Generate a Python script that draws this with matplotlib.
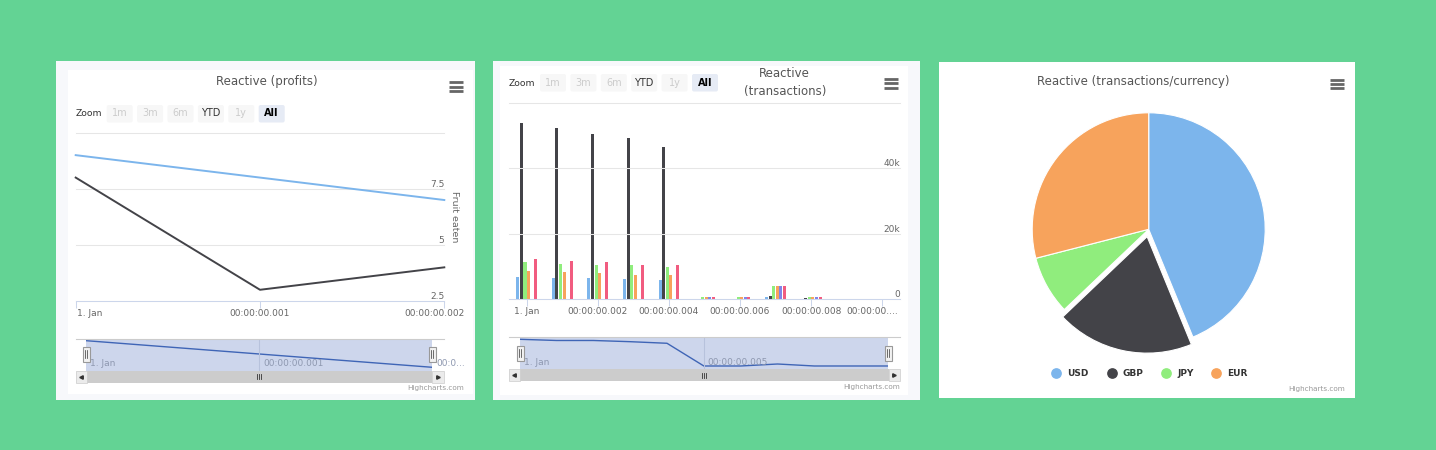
import numpy as np
import matplotlib
matplotlib.use('Agg')
import matplotlib.pyplot as plt
import matplotlib.transforms as mtransforms
from matplotlib.patches import Rectangle, FancyBboxPatch
from matplotlib.lines import Line2D

# profits (line chart), x in milliseconds after 1. Jan
profit_ms = [0, 1, 2]
profit_blue = [9, 8, 7]
profit_black = [8, 3, 4]
profit_yticks = [2.5, 5, 7.5, 10]
profit_ylabels = ['2.5', '5', '7.5', '']
profit_xlabels = ['1. Jan', '00:00:00.001', '00:00:00.002']
profit_nav_ticks = [0, 1, 2]
profit_nav_labels = ['1. Jan', '00:00:00.001', '00:0...']

# transactions (column chart)
tx_ms = [0, 1, 2, 3, 4, 5, 6, 7, 8, 9, 10]
tx_usd = [6700, 6400, 6400, 6100, 5700, 0, 0, 500, 0, 0, 0]
tx_gbp = [53800, 52400, 50400, 49300, 46500, 0, 0, 800, 300, 0, 0]
tx_jpy = [11200, 10700, 10400, 10400, 9900, 600, 600, 3900, 500, 0, 0]
tx_eur = [8500, 8300, 8000, 7400, 7200, 600, 600, 3900, 500, 0, 0]
tx_s5 = [0, 0, 0, 0, 0, 600, 600, 3900, 500, 0, 0]
tx_s6 = [12200, 11700, 11200, 10400, 10300, 600, 600, 3900, 500, 0, 0]
tx_yticks = [0, 20000, 40000, 60000]
tx_ylabels = ['0', '20k', '40k', '']
tx_xticks = [0, 2, 4, 6, 8, 10]
tx_xlabels = ['1. Jan', '00:00:00.002', '00:00:00.004', '00:00:00.006',
              '00:00:00.008', '00:00:00....']
tx_nav_ticks = [0, 5]
tx_nav_labels = ['1. Jan', '00:00:00.005']

# transactions per currency (pie)
currencies = ['USD', 'GBP', 'JPY', 'EUR']
currency_share = [43.8, 19.1, 8.1, 29.0]

range_buttons = ['1m', '3m', '6m', 'YTD', '1y', 'All']

HC = ['#7cb5ec', '#434348', '#90ed7d', '#f7a35c', '#8085e9', '#f15c80']
W, H = 1436, 450

fig = plt.figure(figsize=(W / 100, H / 100), dpi=100)
fig.patch.set_facecolor('#63d394')


def px_axes(x0, y0, x1, y1):
    ax = fig.add_axes([x0 / W, 1 - y1 / H, (x1 - x0) / W, (y1 - y0) / H])
    ax.patch.set_alpha(0)
    return ax


def overlay():
    ax = px_axes(0, 0, W, H)
    ax.set_xlim(0, W)
    ax.set_ylim(H, 0)
    ax.axis('off')
    return ax


bg = overlay()

# panel cards
bg.add_patch(Rectangle((56, 61), 419, 339, fc='#f7f8fb', ec='none'))
bg.add_patch(Rectangle((68, 70), 405, 324, fc='white', ec='none'))
bg.add_patch(Rectangle((493, 61), 427, 339, fc='#f7f8fb', ec='none'))
bg.add_patch(Rectangle((500, 66), 408, 329, fc='white', ec='none'))
bg.add_patch(Rectangle((939, 62), 416, 336, fc='white', ec='none'))

# titles
bg.text(266.7, 82, 'Reactive (profits)', ha='center', va='center',
        fontsize=8.5, color='#555555')
bg.text(784.7, 82.5, 'Reactive\n(transactions)', ha='center', va='center',
        fontsize=8.5, color='#555555', linespacing=1.45)
bg.text(1133, 81.7, 'Reactive (transactions/currency)', ha='center',
        va='center', fontsize=8.5, color='#555555')


def menu_icon(x0, x1, ys):
    for y in ys:
        bg.plot([x0, x1], [y, y], color='#666666', lw=2, solid_capstyle='butt')


menu_icon(449.3, 462.7, [82.3, 86.7, 91])
menu_icon(884, 898, [79.3, 83.3, 87.7])
menu_icon(1329.7, 1343.7, [80, 84, 88.3])

for xr, yr in [(464.3, 387.7), (899.7, 386.7), (1345.3, 389.3)]:
    bg.text(xr, yr, 'Highcharts.com', ha='right', va='center',
            fontsize=5.2, color='#999999')


def zoom_row(x_label, x_first, y_top):
    bg.text(x_label, y_top + 9, 'Zoom', ha='left', va='center',
            fontsize=6.7, color='#333333')
    for i, lab in enumerate(range_buttons):
        x = x_first + i * 30.4
        if lab == 'All':
            fc, tc, fw = '#e6ebf5', '#000000', 'bold'
        elif lab == 'YTD':
            fc, tc, fw = '#f7f7f7', '#333333', 'normal'
        else:
            fc, tc, fw = '#f7f7f7', '#cccccc', 'normal'
        bg.add_patch(FancyBboxPatch((x + 2, y_top + 2), 22, 13.5,
                                    boxstyle='round,pad=2', fc=fc, ec='none'))
        bg.text(x + 13, y_top + 8.5, lab, ha='center', va='center',
                fontsize=7, color=tc, weight=fw)


zoom_row(76, 106.7, 105)
zoom_row(508.7, 540, 74)


def style_axes(ax, yticks, xticks):
    ax.set_yticks(yticks)
    ax.set_xticks(xticks)
    ax.grid(axis='y', color='#e6e6e6', lw=0.75)
    ax.tick_params(axis='y', left=False, labelleft=False)
    ax.tick_params(axis='x', length=5, width=0.75, color='#ccd6eb',
                   labelbottom=False)
    for s in ('top', 'left', 'right'):
        ax.spines[s].set_visible(False)
    ax.spines['bottom'].set_color('#ccd6eb')
    ax.spines['bottom'].set_linewidth(0.75)
    for gl in ax.get_ygridlines():
        gl.set_clip_on(False)


def right_ylabels(ax, ticks, labels):
    tr = mtransforms.offset_copy(ax.get_yaxis_transform(), fig=fig,
                                 x=0, y=2, units='dots')
    for t, lab in zip(ticks, labels):
        ax.text(1, t, lab, transform=tr, ha='right', va='baseline',
                fontsize=6.5, color='#666666')


def bottom_xlabels(ax, ticks, labels, aligns, shifts, dy, color='#666666'):
    for t, lab, ha, dx in zip(ticks, labels, aligns, shifts):
        tr = mtransforms.offset_copy(ax.get_xaxis_transform(), fig=fig,
                                     x=dx, y=-dy, units='dots')
        ax.text(t, 0, lab, transform=tr, ha=ha, va='center',
                fontsize=6.5, color=color)


# ---- profits line chart ----
ax1 = px_axes(75.7, 132.7, 444.3, 301)
ax1.plot(profit_ms, profit_blue, color=HC[0], lw=1.4, clip_on=False)
ax1.plot(profit_ms, profit_black, color=HC[1], lw=1.4, clip_on=False)
ax1.set_xlim(0, 2)
ax1.set_ylim(2.5, 10)
style_axes(ax1, profit_yticks, profit_ms)
right_ylabels(ax1, profit_yticks, profit_ylabels)
bottom_xlabels(ax1, profit_ms, profit_xlabels,
               ['left', 'center', 'right'], [1, 0, 20], 12)
tr = mtransforms.offset_copy(ax1.transAxes, fig=fig, x=6, y=0, units='dots')
ax1.text(1, 0.5, 'Fruit eaten', transform=tr, rotation=270, ha='left',
         va='center', fontsize=6.8, color='#666666')

# ---- transactions column chart ----
ax2 = px_axes(509, 103, 900, 299)
tx_all = [tx_usd, tx_gbp, tx_jpy, tx_eur, tx_s5, tx_s6]
for j, (vals, col) in enumerate(zip(tx_all, HC)):
    ax2.bar(np.array(tx_ms) + (j - 2.5) * 0.1, vals, width=0.085,
            color=col, lw=0)
ax2.set_xlim(-0.5, 10.5)
ax2.set_ylim(0, 60000)
style_axes(ax2, tx_yticks, tx_xticks)
right_ylabels(ax2, tx_yticks, tx_ylabels)
bottom_xlabels(ax2, tx_xticks, tx_xlabels,
               ['center'] * 5 + ['right'], [0, 0, 0, 0, 0, 15.7], 12.3)


# ---- navigators ----
def navigator(x0, x1, y0, y1, xs, ys, xlim, ylim, ticks, labels, grid_x):
    nav = px_axes(x0, y0, x1, y1)
    nav.patch.set_alpha(1)
    nav.set_facecolor('#cdd6ec')
    nav.plot(xs, ys, color='#3f65b6', lw=1)
    nav.set_xlim(*xlim)
    nav.set_ylim(*ylim)
    nav.axvline(grid_x, color='#b7c2dc', lw=0.75)
    nav.set_xticks([])
    nav.set_yticks([])
    for s in nav.spines.values():
        s.set_visible(False)
    for t, lab in zip(ticks, labels):
        tr = mtransforms.offset_copy(nav.get_xaxis_transform(), fig=fig,
                                     x=4, y=0, units='dots')
        nav.text(t, 0.22, lab, transform=tr, ha='left', va='center',
                 fontsize=6.5, color='#8e98b0', clip_on=False)


navigator(86.3, 432, 338.7, 371, profit_ms, profit_blue, (0, 2),
          (6.72, 9.15), profit_nav_ticks, profit_nav_labels, 1)
navigator(519.7, 888, 337.3, 369.3, tx_ms, tx_usd, (0, 10),
          (-830, 7200), tx_nav_ticks, tx_nav_labels, 5)

# ---- pie ----
cx, cy, r = 1148.7, 229.3, 116.5
ax3 = px_axes(cx - 1.2 * r, cy - 1.2 * r, cx + 1.2 * r, cy + 1.2 * r)
ax3.pie(currency_share, colors=HC[:4], startangle=90, counterclock=False,
        explode=[0, 7.5 / r, 0, 0],
        wedgeprops=dict(edgecolor='white', linewidth=0.8))
ax3.set_xlim(-1.2, 1.2)
ax3.set_ylim(-1.2, 1.2)
ax3.set_aspect('equal')

handles = [Line2D([], [], marker='o', ls='none', ms=6.7, color=c)
           for c in HC[:4]]
fig.legend(handles, currencies, loc='center', ncol=4, frameon=False,
           bbox_to_anchor=(1150 / W, 1 - 373.3 / H),
           prop=dict(weight='bold', size=6.5), labelcolor='#333333',
           handlelength=0.9, handletextpad=0.77, columnspacing=2.07)

# ---- scrollbars, handles, navigator outline ----
fg = overlay()


def scrollbar(x0, x1, y0, y1, b0, b1):
    h = y1 - y0
    fg.add_patch(Rectangle((x0, y0), x1 - x0, h, fc='#f2f2f2', ec='none'))
    fg.add_patch(Rectangle((b0, y0), b1 - b0, h, fc='#cccccc', ec='none'))
    fg.add_patch(Rectangle((x0, y0), b0 - x0, h, fc='#ebebeb',
                           ec='#cccccc', lw=0.5))
    fg.add_patch(Rectangle((b1, y0), x1 - b1, h, fc='#ebebeb',
                           ec='#cccccc', lw=0.5))
    ym = y0 + h / 2
    fg.plot((x0 + b0) / 2, ym, marker='<', ms=2.5, color='#333333')
    fg.plot((b1 + x1) / 2, ym, marker='>', ms=2.5, color='#333333')
    xm = (b0 + b1) / 2
    for dx in (-2, 0, 2):
        fg.plot([xm + dx, xm + dx], [ym - 2.5, ym + 2.5], color='#333333',
                lw=0.6)


def nav_handle(xc, yc):
    fg.add_patch(Rectangle((xc - 3.5, yc - 7.5), 7, 15, fc='#f2f2f2',
                           ec='#999999', lw=0.8))
    for dx in (-1, 1):
        fg.plot([xc + dx, xc + dx], [yc - 4, yc + 4], color='#333333', lw=0.5)


scrollbar(75.7, 444.3, 371, 382.7, 86.7, 432)
scrollbar(508.7, 899.7, 369.3, 381, 519.7, 888.7)
fg.plot([75.7, 444.3], [338.7, 338.7], color='#cccccc', lw=0.8)
fg.plot([508.7, 899.7], [337.3, 337.3], color='#cccccc', lw=0.8)
nav_handle(86.3, 354.3)
nav_handle(432.3, 354.3)
nav_handle(520, 353.3)
nav_handle(888, 353.3)

fig.savefig('out.png', dpi=100, facecolor=fig.get_facecolor())
